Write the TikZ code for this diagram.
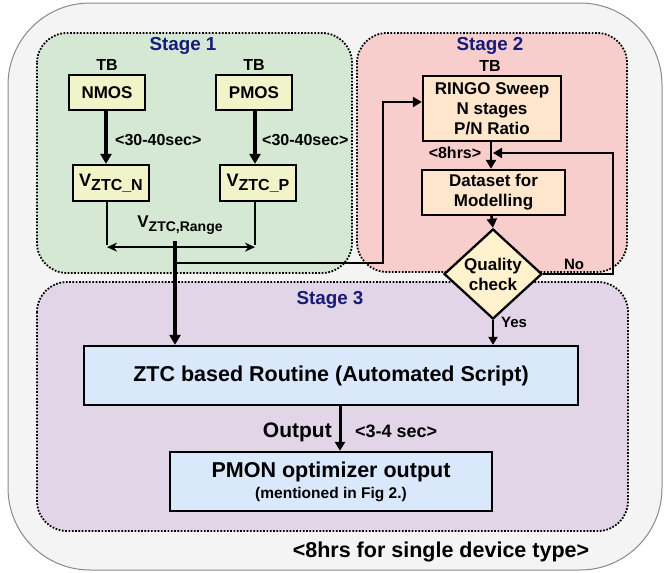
\documentclass[tikz,border=0pt]{standalone}
\usepackage{fontspec}
\setmainfont{Liberation Sans}
\usetikzlibrary{arrows.meta,calc,positioning,shapes.geometric}

\definecolor{outerfill}{HTML}{F4F4F4}
\definecolor{outerdraw}{HTML}{8A8A8A}
\definecolor{greenfill}{HTML}{D5E8D4}
\definecolor{redfill}{HTML}{F8CECC}
\definecolor{purplefill}{HTML}{E1D5E7}
\definecolor{yellowbox}{HTML}{F1F3C8}
\definecolor{orangebox}{HTML}{FFE6CC}
\definecolor{diamondfill}{HTML}{FFF2CC}
\definecolor{bluebox}{HTML}{DAE8FC}
\definecolor{navy}{HTML}{141C78}

\newcommand{\vsub}[2]{V\raisebox{-0.45ex}{\fontsize{#1}{#1}\selectfont #2}}

\begin{document}
\begin{tikzpicture}[x=1pt, y=-1pt,
    stagebox/.style={draw=black, line width=1.8pt, dash pattern=on 1.7pt off 1.6pt, rounded corners=30pt},
    stagetitle/.style={text=navy, font=\fontsize{18.8}{21}\selectfont\bfseries},
    boxbase/.style={draw=black, line width=2.3pt, align=center, inner sep=0pt, font=\fontsize{17}{20}\selectfont\bfseries},
    ybox/.style={boxbase, fill=yellowbox, minimum width=76pt, minimum height=35pt},
    obox/.style={boxbase, fill=orangebox},
    bbox/.style={boxbase, fill=bluebox, font=\fontsize{21.5}{24}\selectfont\bfseries},
    lbl/.style={font=\fontsize{16}{19}\selectfont\bfseries, inner sep=0pt},
    small/.style={font=\fontsize{15}{17}\selectfont\bfseries, inner sep=0pt},
    bigarrow/.style={line width=3.6pt, -{Triangle[length=10pt,width=11pt]}},
    midarrow/.style={line width=2.8pt, -{Triangle[length=9pt,width=10pt]}},
    thinline/.style={line width=2pt}]
    %%%%% FRAME %%%%%
    \useasboundingbox (0,0) rectangle (665,573);
    \draw[fill=outerfill, draw=outerdraw, line width=1pt, rounded corners=82pt] (8,3) rectangle (662,570);
    
    \draw[stagebox, fill=greenfill] (37,33) rectangle (352,273);
    \draw[stagebox, fill=redfill] (357,33) rectangle (627,272);
    \draw[stagebox, fill=purplefill] (37,282) rectangle (628,531);
    
    \node[stagetitle] (st1) at (183,46) {Stage 1};
    \node[stagetitle] (st2) at (490,46) {Stage 2};
    \node[stagetitle] (st3) at (330,300) {Stage 3};
    
    %%%%% STAGE 1 %%%%%
    \node[ybox] (nmos) at (107,92.5) {NMOS};
    \node[ybox] (pmos) at (254,92.5) {PMOS};
    \node[lbl] (tbn) at (107,65) {TB};
    \node[lbl] (tbp) at (254,65) {TB};
    \node[ybox, minimum height=36pt, font=\fontsize{18}{20}\selectfont\bfseries] (vztcn) at (111,183) {\vsub{16}{ZTC\_N}};
    \node[ybox, minimum height=36pt, font=\fontsize{18}{20}\selectfont\bfseries] (vztcp) at (258,183) {\vsub{16}{ZTC\_P}};
    
    \draw[bigarrow] ([xshift=-1pt]nmos.south) -- ([xshift=-1pt]nmos.south |- vztcn.north);
    \draw[bigarrow] ([xshift=1pt]pmos.south) -- ([xshift=1pt]pmos.south |- vztcp.north);
    \node[lbl, anchor=west] (tn) at (115,140) {<30-40sec>};
    \node[lbl, anchor=west] (tp) at (262,140) {<30-40sec>};
    
    \draw[thinline] ([xshift=-4pt]vztcn.south) -- ++(0,43) coordinate (rngl);
    \draw[thinline] ([xshift=-3pt]vztcp.south) -- ++(0,43) coordinate (rngr);
    \draw[thinline, {Stealth[length=10pt,width=9pt]}-{Stealth[length=10pt,width=9pt]}] ([yshift=-2pt]rngl) -- ([yshift=-2pt]rngr);
    \node[lbl, font=\fontsize{17}{19}\selectfont\bfseries] (rng) at (180,225) {\vsub{14}{ZTC,Range}};
    \coordinate (jn) at (175,241);
    
    %%%%% STAGE 2 %%%%%
    \node[lbl] (tbr) at (490,66) {TB};
    \node[obox, minimum width=138pt, minimum height=65pt] (ringo) at (492,108.5) {RINGO Sweep\\N stages\\P/N Ratio};
    \node[obox, minimum width=143pt, minimum height=45pt] (data) at (493.5,192.5) {Dataset for\\Modelling};
    \node[boxbase, diamond, fill=diamondfill, minimum width=98pt, minimum height=78pt] (qual) at (493,274) {Quality\\check};
    
    \draw[midarrow] (jn |- 0,263) -- (383,263) |- ([yshift=6.5pt]ringo.west);
    \draw[midarrow] ([xshift=-1pt]ringo.south) -- ([xshift=-1pt]ringo.south |- data.north);
    \node[lbl] (t8) at (455,153) {<8hrs>};
    \draw[midarrow] ([xshift=-2pt]data.south) -- (qual.north);
    \draw[midarrow] (qual.east) -- (613,274) |- (493,153);
    \node[small] (no) at (574,264) {No};
    
    %%%%% STAGE 3 %%%%%
    \node[bbox, minimum width=494pt, minimum height=59pt] (ztc) at (331,375.5) {ZTC based Routine (Automated Script)};
    \node[bbox, minimum width=322pt, minimum height=59pt] (pmon) at (331,481.5) {PMON optimizer output\\[-3pt]{\fontsize{15.5}{17}\selectfont (mentioned in Fig 2.)}};
    
    \draw[bigarrow] (jn) -- (jn |- ztc.north);
    \draw[line width=2.5pt, -{Triangle[length=8pt,width=9pt]}] (qual.south) -- (qual.south |- ztc.north);
    \node[small] (yes) at (514,322) {Yes};
    
    \draw[line width=3pt, -{Triangle[length=9pt,width=10pt]}] ([xshift=9pt]ztc.south) -- ([xshift=9pt]ztc.south |- pmon.north);
    \node[lbl, font=\fontsize{21}{23}\selectfont\bfseries, anchor=east] (out) at (332,432) {Output};
    \node[lbl, font=\fontsize{18}{20}\selectfont\bfseries, anchor=west] (t34) at (355,431) {<3-4 sec>};
    
    \node[lbl, font=\fontsize{21.5}{23}\selectfont\bfseries] (total) at (441,552) {<8hrs for single device type>};
    %%%%% END %%%%%
\end{tikzpicture}
\end{document}
